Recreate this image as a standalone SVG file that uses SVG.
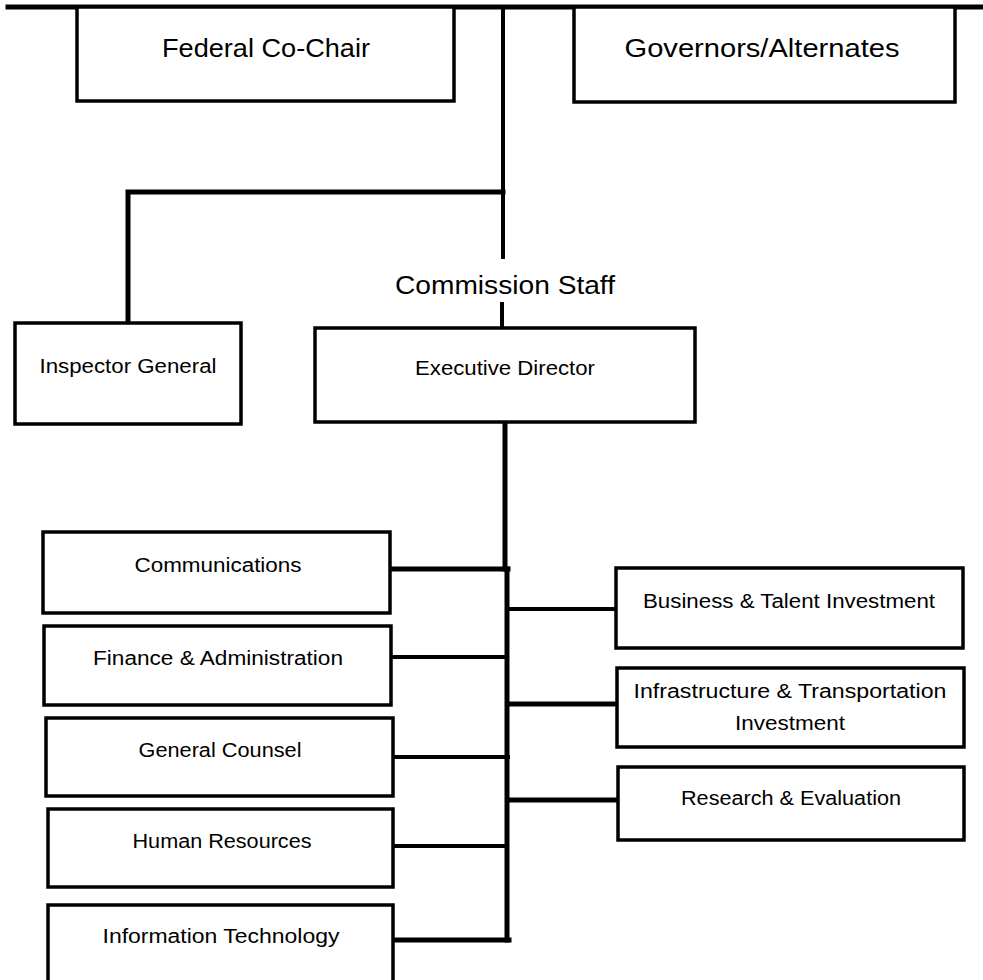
<svg xmlns="http://www.w3.org/2000/svg" width="983" height="980" viewBox="0 0 983 980">
<style>
.box{fill:#fff;stroke:#000;stroke-width:3.5}
.t{font-family:"Liberation Sans",Arial,sans-serif;font-size:20px;fill:#000;text-anchor:middle}
.h{font-family:"Liberation Sans",Arial,sans-serif;font-size:25px;fill:#000;text-anchor:middle}
.c{fill:none;stroke:#000;stroke-linecap:square}
</style>
<rect width="983" height="980" fill="#fff"/>
<g id="connectors">
<path class="c" stroke-width="5" d="M8,7 H983"/>
<path class="c" stroke-width="4" d="M503,7 V257"/>
<path class="c" stroke-width="5" d="M503,192 H128 V323"/>
<path class="c" stroke-width="4" d="M502,304 V328"/>
<path class="c" stroke-width="5" d="M505,422 V569"/>
<path class="c" stroke-width="5" d="M507,569 V940"/>
<path class="c" stroke-width="5" d="M389,569 H508"/>
<path class="c" stroke-width="4" d="M391,657 H506"/>
<path class="c" stroke-width="4" d="M393,757 H508"/>
<path class="c" stroke-width="4" d="M393,846 H507"/>
<path class="c" stroke-width="5" d="M391,940 H509"/>
<path class="c" stroke-width="4" d="M508,609 H616"/>
<path class="c" stroke-width="5" d="M508,704 H617"/>
<path class="c" stroke-width="5" d="M508,800 H618"/>
</g>
<g id="federal-co-chair"><rect class="box" x="77" y="7" width="377" height="94"/><text class="h" x="266" y="57" textLength="208" lengthAdjust="spacingAndGlyphs">Federal Co-Chair</text></g>
<g id="governors"><rect class="box" x="574" y="7" width="381" height="95"/><text class="h" x="762" y="57" textLength="275" lengthAdjust="spacingAndGlyphs">Governors/Alternates</text></g>
<g id="commission-staff"><text class="h" x="505" y="294" font-size="26" textLength="220" lengthAdjust="spacingAndGlyphs">Commission Staff</text></g>
<g id="inspector-general"><rect class="box" x="15" y="323" width="226" height="101"/><text class="t" x="128" y="373" textLength="177" lengthAdjust="spacingAndGlyphs">Inspector General</text></g>
<g id="executive-director"><rect class="box" x="315" y="328" width="380" height="94"/><text class="t" x="505" y="375" textLength="180" lengthAdjust="spacingAndGlyphs">Executive Director</text></g>
<g id="communications"><rect class="box" x="43" y="532" width="347" height="81"/><text class="t" x="218" y="572" textLength="167" lengthAdjust="spacingAndGlyphs">Communications</text></g>
<g id="finance"><rect class="box" x="44" y="626" width="347" height="79"/><text class="t" x="218" y="665" textLength="250" lengthAdjust="spacingAndGlyphs">Finance &amp; Administration</text></g>
<g id="general-counsel"><rect class="box" x="46" y="718" width="347" height="78"/><text class="t" x="220" y="757" textLength="163" lengthAdjust="spacingAndGlyphs">General Counsel</text></g>
<g id="human-resources"><rect class="box" x="48" y="809" width="345" height="78"/><text class="t" x="222" y="848" textLength="179" lengthAdjust="spacingAndGlyphs">Human Resources</text></g>
<g id="information-technology"><rect class="box" x="48" y="905" width="345" height="85"/><text class="t" x="221" y="943" textLength="237" lengthAdjust="spacingAndGlyphs">Information Technology</text></g>
<g id="business-talent"><rect class="box" x="616" y="568" width="347" height="80"/><text class="t" x="789" y="608" textLength="292" lengthAdjust="spacingAndGlyphs">Business &amp; Talent Investment</text></g>
<g id="infrastructure"><rect class="box" x="617" y="668" width="347" height="79"/><text class="t" x="790" y="698" textLength="313" lengthAdjust="spacingAndGlyphs">Infrastructure &amp; Transportation</text><text class="t" x="790" y="730" textLength="110" lengthAdjust="spacingAndGlyphs">Investment</text></g>
<g id="research-evaluation"><rect class="box" x="618" y="767" width="346" height="73"/><text class="t" x="791" y="805" textLength="220" lengthAdjust="spacingAndGlyphs">Research &amp; Evaluation</text></g>
</svg>
